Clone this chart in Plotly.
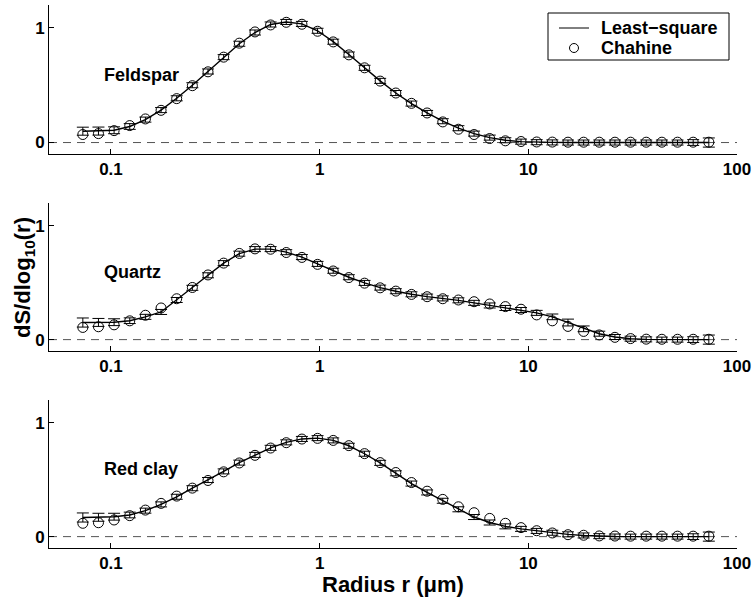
import plotly.graph_objects as go

# Particle radius grid (micrometres), shared by all three samples
radius = [0.0733, 0.0871, 0.1035, 0.1230, 0.1462, 0.1738, 0.2065, 0.2455, 0.2917,
          0.3467, 0.4121, 0.4898, 0.5821, 0.6918, 0.8222, 0.9772, 1.1614, 1.3804,
          1.6406, 1.9498, 2.3174, 2.7542, 3.2734, 3.8905, 4.6238, 5.4954, 6.5313,
          7.7625, 9.2257, 10.965, 13.032, 15.488, 18.408, 21.878, 26.002, 30.903,
          36.728, 43.652, 51.880, 61.660, 73.282]

# Feldspar
feldspar_fit = [0.099, 0.100, 0.107, 0.140, 0.200, 0.283, 0.386, 0.500, 0.620, 0.745,
                0.862, 0.960, 1.030, 1.052, 1.035, 0.975, 0.880, 0.768, 0.652, 0.538,
                0.432, 0.340, 0.258, 0.186, 0.125, 0.078, 0.043, 0.020, 0.008, 0.003,
                0.001, 0.000, 0.000, 0.000, 0.000, 0.000, 0.000, 0.000, 0.000, 0.000, 0.000]
feldspar_chahine = [0.070, 0.078, 0.104, 0.148, 0.206, 0.281, 0.383, 0.496, 0.617, 0.745,
                    0.867, 0.965, 1.026, 1.049, 1.032, 0.971, 0.878, 0.765, 0.652, 0.536,
                    0.432, 0.342, 0.258, 0.180, 0.116, 0.070, 0.035, 0.015, 0.009, 0.005,
                    0.004, 0.003, 0.003, 0.003, 0.003, 0.003, 0.003, 0.003, 0.003, 0.003, 0.003]
feldspar_err = [0.035, 0.035, 0.030, 0.025, 0.022, 0.022, 0.022, 0.022, 0.022, 0.022,
                0.022, 0.022, 0.022, 0.022, 0.022, 0.022, 0.022, 0.022, 0.022, 0.022,
                0.022, 0.022, 0.022, 0.022, 0.022, 0.022, 0.022, 0.022, 0.022, 0.022,
                0.022, 0.022, 0.022, 0.022, 0.022, 0.022, 0.022, 0.022, 0.022, 0.025, 0.040]

# Quartz
quartz_fit = [0.150, 0.151, 0.153, 0.166, 0.200, 0.243, 0.348, 0.455, 0.565, 0.672,
              0.755, 0.795, 0.795, 0.768, 0.725, 0.665, 0.605, 0.548, 0.498, 0.457,
              0.425, 0.398, 0.378, 0.362, 0.345, 0.323, 0.300, 0.278, 0.260, 0.235,
              0.200, 0.150, 0.095, 0.052, 0.023, 0.008, 0.002, 0.000, 0.000, 0.000, 0.000]
quartz_chahine = [0.107, 0.113, 0.130, 0.165, 0.214, 0.278, 0.359, 0.458, 0.568, 0.672,
                  0.757, 0.797, 0.794, 0.765, 0.722, 0.661, 0.603, 0.545, 0.496, 0.455,
                  0.426, 0.397, 0.377, 0.359, 0.348, 0.333, 0.313, 0.290, 0.267, 0.217,
                  0.165, 0.116, 0.072, 0.041, 0.020, 0.009, 0.004, 0.003, 0.003, 0.003, 0.003]
quartz_err = [0.040, 0.035, 0.030, 0.025, 0.022, 0.022, 0.022, 0.022, 0.022, 0.022,
              0.022, 0.022, 0.022, 0.022, 0.022, 0.022, 0.022, 0.022, 0.022, 0.022,
              0.022, 0.022, 0.022, 0.022, 0.022, 0.022, 0.022, 0.022, 0.022, 0.022,
              0.025, 0.030, 0.025, 0.022, 0.022, 0.022, 0.022, 0.022, 0.022, 0.025, 0.040]

# Red clay
redclay_fit = [0.168, 0.170, 0.175, 0.190, 0.228, 0.283, 0.350, 0.425, 0.497, 0.573,
               0.650, 0.718, 0.780, 0.828, 0.858, 0.865, 0.845, 0.798, 0.728, 0.648,
               0.556, 0.466, 0.388, 0.315, 0.240, 0.172, 0.124, 0.090, 0.068, 0.050,
               0.034, 0.020, 0.010, 0.004, 0.001, 0.000, 0.000, 0.000, 0.000, 0.000, 0.000]
redclay_chahine = [0.117, 0.122, 0.146, 0.184, 0.233, 0.292, 0.356, 0.426, 0.493, 0.569,
                   0.647, 0.714, 0.778, 0.825, 0.857, 0.863, 0.845, 0.799, 0.729, 0.650,
                   0.563, 0.475, 0.399, 0.327, 0.262, 0.210, 0.160, 0.117, 0.079, 0.052,
                   0.032, 0.017, 0.012, 0.006, 0.005, 0.004, 0.004, 0.004, 0.004, 0.004, 0.004]
redclay_err = [0.040, 0.035, 0.030, 0.025, 0.022, 0.022, 0.022, 0.022, 0.022, 0.022,
               0.022, 0.022, 0.022, 0.022, 0.022, 0.022, 0.022, 0.022, 0.022, 0.022,
               0.022, 0.022, 0.022, 0.022, 0.022, 0.022, 0.022, 0.022, 0.022, 0.022,
               0.022, 0.022, 0.022, 0.022, 0.022, 0.022, 0.022, 0.022, 0.022, 0.025, 0.040]

samples = ["Feldspar", "Quartz", "Red clay"]
fits = [feldspar_fit, quartz_fit, redclay_fit]
chahine = [feldspar_chahine, quartz_chahine, redclay_chahine]
errors = [feldspar_err, quartz_err, redclay_err]

x_ticks = [0.1, 1, 10, 100]
x_ticktext = ["0.1", "1", "10", "100"]
y_ticks = [0, 1]
legend_labels = ["Least\u2212square", "Chahine"]

W, H = 753, 602
FONT = "Liberation Sans, Arial, sans-serif"


def px_x(p):
    return p / W


def px_y(p):
    return 1 - p / H


# pixel extents of the plotting areas
x_px = (49, 737)
y_px = [(5, 154), (203, 351), (400, 548)]

fig = go.Figure()
layout = dict(
    width=W, height=H,
    margin=dict(l=0, r=0, t=0, b=0, autoexpand=False),
    paper_bgcolor="white", plot_bgcolor="white",
    font=dict(family=FONT, color="black", size=17, weight="bold"),
    showlegend=False,
    shapes=[], annotations=[],
)

tick_font = dict(family=FONT, size=17, color="black", weight="bold")

for k, name in enumerate(samples):
    sfx = "" if k == 0 else str(k + 1)
    xa, ya = "x" + sfx, "y" + sfx
    top, bot = y_px[k]
    layout["xaxis" + sfx] = dict(
        type="log", range=[-1.297, 2.0], automargin=False,
        domain=[px_x(x_px[0]), px_x(x_px[1])], anchor=ya,
        showline=True, linecolor="black", linewidth=1, mirror=False,
        ticks="inside", ticklen=5, tickcolor="black",
        tickvals=x_ticks, ticktext=x_ticktext, tickfont=tick_font,
        showgrid=False, zeroline=False,
    )
    layout["yaxis" + sfx] = dict(
        range=[-0.1, 1.2], automargin=False,
        domain=[px_y(bot), px_y(top)], anchor=xa,
        showline=True, linecolor="black", linewidth=1, mirror=False,
        ticks="inside", ticklen=5, tickcolor="black",
        tickvals=y_ticks, tickfont=tick_font,
        showgrid=False, zeroline=False,
    )
    # dashed zero reference line
    layout["shapes"].append(dict(
        type="line", xref=xa + " domain", yref=ya, x0=0, x1=1, y0=0, y1=0,
        line=dict(color="#555555", width=1, dash="8px,6px"), layer="below",
    ))
    layout["annotations"].append(dict(
        text=name, xref=xa, yref=ya, x=-1.043, y=0.59,
        xanchor="left", yanchor="middle", showarrow=False,
        font=dict(family=FONT, size=18, color="black", weight="bold"),
    ))

    fig.add_trace(go.Scatter(
        x=radius, y=fits[k], mode="lines", name=legend_labels[0],
        line=dict(color="black", width=1.4),
        error_y=dict(type="data", array=errors[k], color="black", thickness=1, width=6),
        xaxis=xa, yaxis=ya,
    ))
    fig.add_trace(go.Scatter(
        x=radius, y=chahine[k], mode="markers", name=legend_labels[1],
        marker=dict(symbol="circle-open", size=10, color="black", line=dict(width=1)),
        xaxis=xa, yaxis=ya,
    ))

# legend box (top panel, upper right)
leg_font = dict(family=FONT, size=18, color="black", weight="bold")
layout["shapes"] += [
    dict(type="rect", xref="paper", yref="paper",
         x0=px_x(548), x1=px_x(729), y0=px_y(60), y1=px_y(13),
         line=dict(color="black", width=1), fillcolor="white", layer="above"),
    dict(type="line", xref="paper", yref="paper",
         x0=px_x(559), x1=px_x(589), y0=px_y(28), y1=px_y(28),
         line=dict(color="black", width=1), layer="above"),
    dict(type="circle", xref="paper", yref="paper",
         x0=px_x(569.5), x1=px_x(578.5), y0=px_y(52.5), y1=px_y(43.5),
         line=dict(color="black", width=1), layer="above"),
]
for label, yc in zip(legend_labels, (27.5, 48)):
    layout["annotations"].append(dict(
        text=label, xref="paper", yref="paper", x=px_x(599), y=px_y(yc),
        xanchor="left", yanchor="middle", showarrow=False, font=leg_font,
    ))

# axis titles
layout["annotations"].append(dict(
    text="Radius r (\u03bcm)", xref="paper", yref="paper",
    x=px_x(393), y=px_y(584), xanchor="center", yanchor="middle", showarrow=False,
    font=dict(family=FONT, size=22, color="black", weight="bold"),
))
layout["annotations"].append(dict(
    text="dS/dlog<sub>10</sub>(r)", xref="paper", yref="paper",
    x=px_x(24), y=px_y(278), xanchor="center", yanchor="middle", showarrow=False,
    textangle=-90,
    font=dict(family=FONT, size=22, color="black", weight="bold"),
))

fig.update_layout(**layout)
fig.write_html("out.html")
